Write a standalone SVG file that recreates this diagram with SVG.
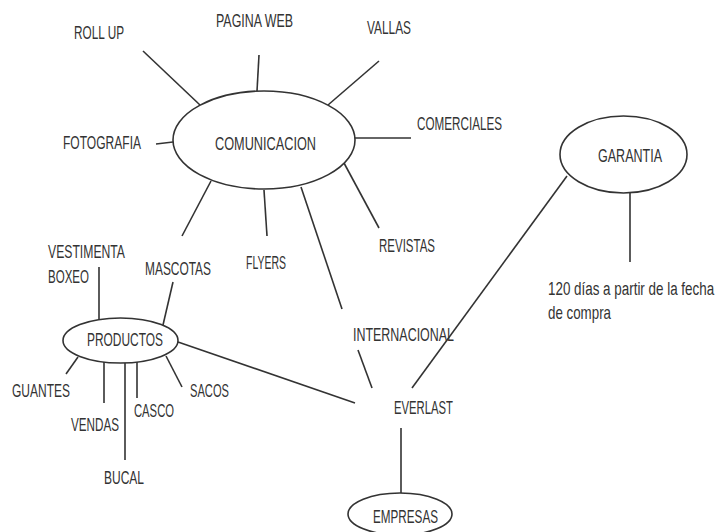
<svg xmlns="http://www.w3.org/2000/svg" width="718" height="532" viewBox="0 0 718 532">
<style>
.n{fill:#fff;stroke:#333;stroke-width:1.6}
.t{font-family:"Liberation Sans",Arial,sans-serif;font-size:18.5px;fill:#333}
#connectors line{stroke:#333;stroke-width:1.6}
</style>
<rect width="718" height="532" fill="#fff"/>
<g id="connectors">
<line x1="143" y1="51" x2="200" y2="105"/>
<line x1="259" y1="55" x2="257" y2="91"/>
<line x1="379" y1="61" x2="328" y2="105"/>
<line x1="156" y1="144" x2="173" y2="142"/>
<line x1="354" y1="138" x2="411" y2="138"/>
<line x1="344" y1="163" x2="379" y2="228"/>
<line x1="211" y1="181" x2="182" y2="236"/>
<line x1="264" y1="190" x2="267" y2="236"/>
<line x1="301" y1="187" x2="342" y2="309"/>
<line x1="567" y1="176" x2="412" y2="388"/>
<line x1="630" y1="193" x2="630" y2="262"/>
<line x1="99" y1="267" x2="99" y2="320"/>
<line x1="173" y1="282" x2="163" y2="325"/>
<line x1="178" y1="342" x2="355" y2="403"/>
<line x1="78" y1="357" x2="66" y2="374"/>
<line x1="104" y1="362" x2="104" y2="403"/>
<line x1="125" y1="363" x2="125" y2="460"/>
<line x1="137" y1="362" x2="137" y2="398"/>
<line x1="166" y1="356" x2="182" y2="387"/>
<line x1="358" y1="350" x2="372" y2="388"/>
<line x1="401" y1="428" x2="401" y2="493"/>
</g>
<g id="comunicacion"><ellipse class="n" cx="264" cy="140" rx="91" ry="49"/><text class="t" x="215" y="150" textLength="101" lengthAdjust="spacingAndGlyphs">COMUNICACION</text></g>
<g id="rollup"><text class="t" x="74" y="39" textLength="50" lengthAdjust="spacingAndGlyphs">ROLL UP</text></g>
<g id="paginaweb"><text class="t" x="216" y="27" textLength="77" lengthAdjust="spacingAndGlyphs">PAGINA WEB</text></g>
<g id="vallas"><text class="t" x="367" y="34" textLength="44" lengthAdjust="spacingAndGlyphs">VALLAS</text></g>
<g id="fotografia"><text class="t" x="63" y="149" textLength="78" lengthAdjust="spacingAndGlyphs">FOTOGRAFIA</text></g>
<g id="comerciales"><text class="t" x="417" y="130" textLength="85" lengthAdjust="spacingAndGlyphs">COMERCIALES</text></g>
<g id="revistas"><text class="t" x="379" y="252" textLength="56" lengthAdjust="spacingAndGlyphs">REVISTAS</text></g>
<g id="flyers"><text class="t" x="246" y="269" textLength="40" lengthAdjust="spacingAndGlyphs">FLYERS</text></g>
<g id="mascotas"><text class="t" x="145" y="275" textLength="66" lengthAdjust="spacingAndGlyphs">MASCOTAS</text></g>
<g id="vestimenta"><text class="t" x="48" y="258" textLength="77" lengthAdjust="spacingAndGlyphs">VESTIMENTA</text><text class="t" x="48" y="283" textLength="41" lengthAdjust="spacingAndGlyphs">BOXEO</text></g>
<g id="garantia"><ellipse class="n" cx="623.5" cy="154.5" rx="63.5" ry="38.5"/><text class="t" x="598" y="162" textLength="64" lengthAdjust="spacingAndGlyphs">GARANTIA</text></g>
<g id="garantia-texto"><text class="t" transform="translate(548 295) scale(0.725 1)" x="0" y="0">120 días a partir de la fecha</text><text class="t" x="548" y="319" textLength="63" lengthAdjust="spacingAndGlyphs">de compra</text></g>
<g id="productos"><ellipse class="n" cx="120.5" cy="340.5" rx="57.5" ry="22.5"/><text class="t" x="87" y="346" textLength="76" lengthAdjust="spacingAndGlyphs">PRODUCTOS</text></g>
<g id="guantes"><text class="t" x="12" y="397" textLength="58" lengthAdjust="spacingAndGlyphs">GUANTES</text></g>
<g id="vendas"><text class="t" x="71" y="431" textLength="48" lengthAdjust="spacingAndGlyphs">VENDAS</text></g>
<g id="bucal"><text class="t" x="104" y="484" textLength="40" lengthAdjust="spacingAndGlyphs">BUCAL</text></g>
<g id="casco"><text class="t" x="134" y="417" textLength="40" lengthAdjust="spacingAndGlyphs">CASCO</text></g>
<g id="sacos"><text class="t" x="190" y="397" textLength="39" lengthAdjust="spacingAndGlyphs">SACOS</text></g>
<g id="internacional"><text class="t" x="353" y="341" textLength="101" lengthAdjust="spacingAndGlyphs">INTERNACIONAL</text></g>
<g id="everlast"><text class="t" x="394" y="414" textLength="59" lengthAdjust="spacingAndGlyphs">EVERLAST</text></g>
<g id="empresas"><ellipse class="n" cx="400" cy="514" rx="52" ry="21"/><text class="t" x="373" y="523" textLength="65" lengthAdjust="spacingAndGlyphs">EMPRESAS</text></g>
</svg>
